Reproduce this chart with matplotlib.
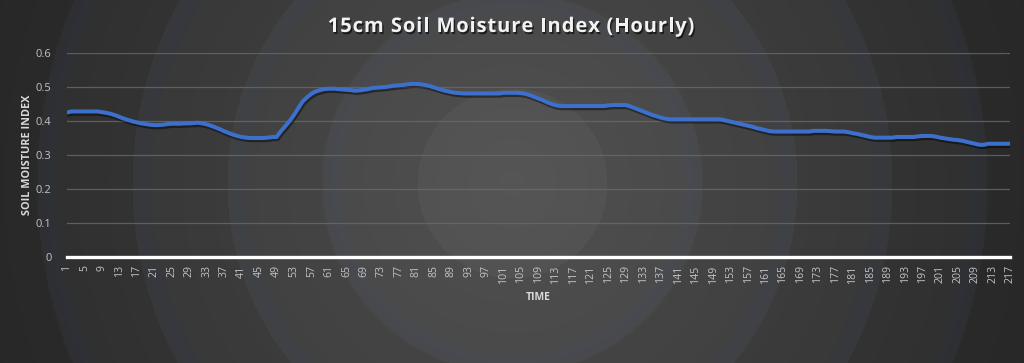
import numpy as np
import matplotlib
matplotlib.use("Agg")
import matplotlib.pyplot as plt
import matplotlib.patheffects as pe

# ---- data ----
hours = list(range(1, 218))
moisture = [
    0.425, 0.428, 0.428, 0.428, 0.428, 0.428, 0.428, 0.428, 0.426, 0.424,   # 1-10
    0.421, 0.417, 0.412, 0.407, 0.403, 0.399, 0.396, 0.393, 0.391, 0.389,   # 11-20
    0.388, 0.388, 0.389, 0.391, 0.392, 0.392, 0.392, 0.393, 0.393, 0.394,   # 21-30
    0.395, 0.393, 0.390, 0.386, 0.381, 0.376, 0.370, 0.365, 0.360, 0.356,   # 31-40
    0.353, 0.351, 0.350, 0.350, 0.350, 0.350, 0.351, 0.353, 0.353, 0.370,   # 41-50
    0.385, 0.400, 0.418, 0.438, 0.458, 0.470, 0.480, 0.487, 0.491, 0.494,   # 51-60
    0.495, 0.495, 0.494, 0.493, 0.492, 0.491, 0.489, 0.490, 0.492, 0.494,   # 61-70
    0.497, 0.498, 0.499, 0.500, 0.502, 0.504, 0.505, 0.506, 0.508, 0.509,   # 71-80
    0.509, 0.508, 0.506, 0.503, 0.499, 0.495, 0.491, 0.488, 0.485, 0.483,   # 81-90
    0.482, 0.481, 0.481, 0.481, 0.481, 0.481, 0.481, 0.481, 0.481, 0.481,   # 91-100
    0.483, 0.483, 0.483, 0.483, 0.482, 0.480, 0.476, 0.471, 0.466, 0.461,   # 101-110
    0.455, 0.450, 0.446, 0.444, 0.444, 0.444, 0.444, 0.444, 0.444, 0.444,   # 111-120
    0.444, 0.444, 0.444, 0.444, 0.446, 0.447, 0.447, 0.447, 0.447, 0.443,   # 121-130
    0.438, 0.433, 0.428, 0.423, 0.418, 0.414, 0.410, 0.407, 0.405, 0.405,   # 131-140
    0.405, 0.405, 0.405, 0.405, 0.405, 0.405, 0.405, 0.405, 0.405, 0.405,   # 141-150
    0.404, 0.401, 0.398, 0.395, 0.392, 0.389, 0.386, 0.383, 0.379, 0.376,   # 151-160
    0.373, 0.370, 0.369, 0.369, 0.369, 0.369, 0.369, 0.369, 0.369, 0.369,   # 161-170
    0.369, 0.371, 0.371, 0.371, 0.371, 0.370, 0.369, 0.369, 0.369, 0.367,   # 171-180
    0.364, 0.362, 0.359, 0.356, 0.353, 0.351, 0.351, 0.351, 0.351, 0.351,   # 181-190
    0.353, 0.353, 0.353, 0.353, 0.353, 0.355, 0.356, 0.356, 0.356, 0.354,   # 191-200
    0.351, 0.349, 0.347, 0.345, 0.344, 0.342, 0.339, 0.336, 0.333, 0.330,   # 201-210
    0.330, 0.333, 0.333, 0.333, 0.333, 0.333, 0.333,                        # 211-217
]
xtick_values = list(range(1, 218, 4))
ytick_values = [0, 0.1, 0.2, 0.3, 0.4, 0.5, 0.6]
ytick_labels = ["0", "0.1", "0.2", "0.3", "0.4", "0.5", "0.6"]
title = "15cm Soil Moisture Index (Hourly)"
xlabel = "TIME"
ylabel = "SOIL MOISTURE INDEX"

W, H = 1024, 363
fig = plt.figure(figsize=(W / 100, H / 100), dpi=100)

# ---- radial stepped background ----
bg = fig.add_axes([0, 0, 1, 1], zorder=0)
yy, xx = np.mgrid[0:H, 0:W]
r = np.hypot(xx - 512, yy - 183)
step = np.floor(r / 95.0)
lev = 0.335 - 0.034 * step
lev = np.clip(lev, 0.12, 1)
lev = lev - 0.012 * ((r % 95.0) / 95.0)
img = np.dstack([lev, lev, lev])
blue = np.exp(-((r % 95.0) - 85.0) ** 2 / (2 * 6.0 ** 2)) * (step >= 1)
img[..., 0] -= 0.010 * blue
img[..., 2] += 0.018 * blue
img = np.clip(img, 0, 1)
bg.imshow(img, aspect="auto", interpolation="bilinear", extent=[0, W, H, 0])
bg.set_axis_off()

# ---- main axes ----
ax = fig.add_axes([67 / W, 1 - 257 / H, (1010 - 67) / W, (257 - 53) / H], zorder=1)
ax.patch.set_alpha(0)
for s in ax.spines.values():
    s.set_visible(False)

ax.set_xlim(1, 217)
ax.set_ylim(0, 0.6)
ax.set_yticks(ytick_values)
ax.set_yticklabels(ytick_labels)
ax.set_xticks(xtick_values)
ax.set_xticklabels([str(v) for v in xtick_values], rotation=90)

ax.grid(axis="y", color="#6a6a6a", linewidth=0.9, alpha=0.8)
ax.grid(axis="x", visible=False)
ax.axhline(0, color="#ffffff", linewidth=2.4, zorder=3, clip_on=False)

ax.tick_params(axis="both", length=0, colors="#c4c4c4")
ax.tick_params(axis="y", pad=11, labelsize=8)
ax.tick_params(axis="x", pad=6, labelsize=7.6)
for lbl in ax.get_xticklabels() + ax.get_yticklabels():
    lbl.set_fontfamily("Open Sans")

ax.plot(hours, moisture, color="#3d6fcc", linewidth=2.9, solid_capstyle="round",
        zorder=4,
        path_effects=[pe.SimpleLineShadow(offset=(0.8, -1.6), shadow_color="black", alpha=0.45),
                      pe.Normal()])

# ---- title with slight letter spacing ----
renderer = fig.canvas.get_renderer()
tkw = dict(color="#f2f2f2", fontsize=14.5, fontweight="bold", fontfamily="Open Sans")
spacing_px = 0.9


def prefix_width(s):
    if not s:
        return 0.0
    t = fig.text(0, 0, s.replace(" ", "\u00a0"), **tkw)
    w = t.get_window_extent(renderer=renderer).width
    t.remove()
    return w


total = prefix_width(title) + spacing_px * (len(title) - 1)
x0 = 511 - total / 2
shadow = [pe.withSimplePatchShadow(offset=(1, -1.5), shadow_rgbFace="black", alpha=0.6)]
for i, ch in enumerate(title):
    if ch == " ":
        continue
    xpx = x0 + prefix_width(title[:i]) + spacing_px * i
    fig.text(xpx / W, 1 - 27 / H, ch, ha="left", va="center", path_effects=shadow, **tkw)

fig.text(538 / W, 1 - 298 / H, xlabel, ha="center", va="center", color="#d9d9d9",
         fontsize=7.5, fontweight="bold", fontfamily="Open Sans")
fig.text(28 / W, 1 - 155 / H, ylabel, ha="center", va="center", color="#d9d9d9",
         fontsize=7.8, fontweight="bold", fontfamily="Open Sans", rotation=90)

fig.savefig("out.png", dpi=100)
